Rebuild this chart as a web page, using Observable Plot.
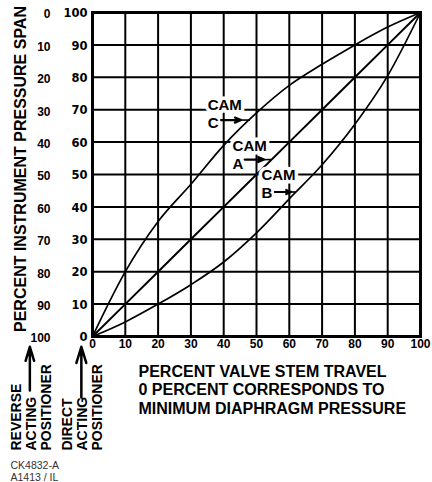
<!DOCTYPE html>
<html>
<head>
<meta charset="utf-8">
<style>
  html, body { margin: 0; padding: 0; background: #fff; }
  #chart svg { display: block; }
</style>
<script src="https://cdn.jsdelivr.net/npm/d3@7"></script>
<script src="https://cdn.jsdelivr.net/npm/@observablehq/plot@0.6"></script>
</head>
<body>
<div id="chart"></div>
<script>
// ---- data ----
const travel = [0, 10, 20, 30, 40, 50, 60, 70, 80, 90, 100];           // % valve stem travel
const camA   = [0, 10, 20, 30, 40, 50, 60, 70, 80, 90, 100];           // linear cam
const camB   = [0, 4.5, 10, 16, 23, 32, 42.5, 53, 65.5, 80.5, 100];    // cam B
const camC   = [0, 20, 35.5, 47, 59, 69, 77.5, 84, 90, 95.5, 100];     // cam C
const xTickLabels     = ["0","10","20","30","40","50","60","70","80","90","100"];
const directLabels    = ["0","10","20","30","40","50","60","70","80","90","100"];
const reverseLabels   = ["100","90","80","70","60","50","40","30","20","10","0"];

const xTitle   = "PERCENT VALVE STEM TRAVEL\n0 PERCENT CORRESPONDS TO\nMINIMUM DIAPHRAGM PRESSURE";
const yTitle   = "PERCENT INSTRUMENT PRESSURE SPAN";
const reverseNote = "REVERSE\nACTING\nPOSITIONER";
const directNote  = "DIRECT\nACTING\nPOSITIONER";
const caption  = "CK4832-A\nA1413 / IL";

// cam label annotations (data units)
const camNotes = [
  {label: "CAM\nC", x: 35.1, y: 64.5, ay: 66.8, from: 39.2, tip: 45.3, to: 48},
  {label: "CAM\nA", x: 42.7, y: 51.6, ay: 54.6, from: 46.4, tip: 52.3, to: 54.6},
  {label: "CAM\nB", x: 51.5, y: 42.7, ay: 44.6, from: 55.6, tip: 60.6, to: 62}
];
// positioner arrows (data units, below the frame)
const posArrows = [
  {x: -19.1, y1: -16.7, y2: -3.2},
  {x: -3.4,  y1: -18.8, y2: -3.2}
];

const series = [
  ...travel.map((t, i) => ({cam: "A", x: t, y: camA[i]})),
  ...travel.map((t, i) => ({cam: "B", x: t, y: camB[i]})),
  ...travel.map((t, i) => ({cam: "C", x: t, y: camC[i]}))
];

const font = "'Liberation Sans', Arial, Helvetica, sans-serif";

const chart = Plot.plot({
  width: 432,
  height: 482,
  marginLeft: 92,
  marginRight: 12,
  marginTop: 12,
  marginBottom: 146,
  x: {domain: [0, 100], axis: null},
  y: {domain: [0, 100], axis: null},
  style: {fontFamily: font, background: "white", color: "black", overflow: "visible"},
  marks: [
    // grid
    Plot.ruleX(travel.slice(1, -1), {stroke: "black", strokeWidth: 2}),
    Plot.ruleY(travel.slice(1, -1), {stroke: "black", strokeWidth: 2}),
    Plot.frame({stroke: "black", strokeWidth: 3}),
    // curves
    Plot.line(series.filter(d => d.cam !== "A"), {x: "x", y: "y", z: "cam", curve: "monotone-x", stroke: "black", strokeWidth: 1.7}),
    Plot.line(series.filter(d => d.cam === "A"), {x: "x", y: "y", stroke: "black", strokeWidth: 2}),
    // x tick labels
    Plot.text(travel, {x: d => d, text: xTickLabels, frameAnchor: "bottom", dy: 11, fontSize: 12, fontWeight: "bold"}),
    // inner y labels (direct acting)
    Plot.text(travel, {y: d => d, text: directLabels, frameAnchor: "left", dx: -5, dy: 1, textAnchor: "end",
      fontSize: 11.5, fontWeight: "bold", fontFamily: "'DejaVu Sans', sans-serif"}),
    // outer y labels (reverse acting)
    Plot.text(travel, {y: d => d, text: reverseLabels, frameAnchor: "left", dx: -42, dy: 2, textAnchor: "end",
      fontSize: 12, fontWeight: "bold"}),
    // y title
    Plot.text([yTitle], {frameAnchor: "left", dx: -67, dy: -5.5, rotate: -90, textAnchor: "middle", lineAnchor: "bottom",
      fontSize: 16, fontWeight: "bold"}),
    // x title
    Plot.text([xTitle], {frameAnchor: "bottom-left", dx: 46, dy: 77.3, textAnchor: "start", lineAnchor: "bottom",
      lineHeight: 1.145, fontSize: 16, fontWeight: "bold"}),
    // positioner notes
    Plot.text([reverseNote], {frameAnchor: "bottom-left", dx: -42, dy: 114, rotate: -90, textAnchor: "start", lineAnchor: "bottom",
      lineHeight: 15 / 14, fontSize: 14, fontWeight: "bold"}),
    Plot.text([directNote], {frameAnchor: "bottom-left", dx: 9.7, dy: 114, rotate: -90, textAnchor: "start", lineAnchor: "bottom",
      lineHeight: 15 / 14, fontSize: 14, fontWeight: "bold"}),
    Plot.arrow(posArrows, {x1: "x", x2: "x", y1: "y1", y2: "y2", stroke: "black", strokeWidth: 2.5, headLength: 13, headAngle: 34}),
    // caption
    Plot.text([caption], {frameAnchor: "bottom-left", dx: -82, dy: 144.5, textAnchor: "start", lineAnchor: "bottom",
      lineHeight: 1.17, fontSize: 10.5, fill: "#333"}),
    // cam labels
    Plot.text(camNotes, {x: "x", y: "y", text: "label", textAnchor: "start", lineAnchor: "bottom", lineHeight: 1.2,
      fontSize: 15, fontWeight: "bold", fill: "black", stroke: "white", strokeWidth: 7}),
    Plot.link(camNotes, {x1: "tip", x2: "to", y1: "ay", y2: "ay", stroke: "black", strokeWidth: 1.6}),
    Plot.arrow(camNotes, {x1: "from", x2: "tip", y1: "ay", y2: "ay", stroke: "black", strokeWidth: 2.2, headLength: 8, headAngle: 45})
  ]
});

document.getElementById("chart").appendChild(chart);
</script>
</body>
</html>
